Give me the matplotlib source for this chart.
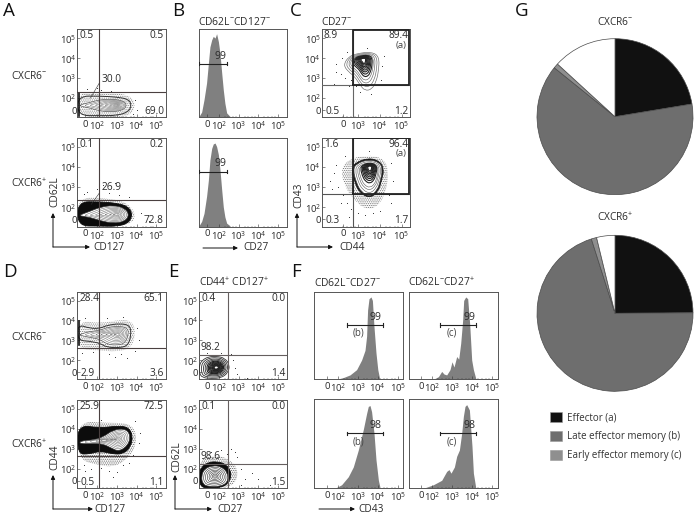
import numpy as np
import matplotlib
matplotlib.use('Agg')
import matplotlib.pyplot as plt
from matplotlib.patches import PathPatch, Patch
from matplotlib.path import Path

plt.rcParams['font.family'] = ['Open Sans', 'DejaVu Sans']
plt.rcParams['mathtext.default'] = 'regular'
plt.rcParams['hatch.linewidth'] = 0.5

W, H = 697, 517
INK = '#2a2a2a'
FRAME = '#555555'
STIPPLE = '.' * 9

# tick labels
FLOW_TICKS = [1.39, 2, 3, 4, 5]
FLOW_LABELS = ['0', '10$^{2}$', '10$^{3}$', '10$^{4}$', '10$^{5}$']
YTICKS = [1.4, 2, 3, 4, 5]
C_TICKS = [2.31, 3, 4, 5]
C_LABELS = ['0', '10$^{3}$', '10$^{4}$', '10$^{5}$']
F_TICKS = [1.45, 2, 3, 4, 5]

# histograms: x in decades, y as fraction of the axes
B1_X = [0.985, 1.12, 1.24, 1.37, 1.46, 1.54, 1.63, 1.71, 1.80, 1.88, 1.97, 2.05, 2.14, 2.22, 2.30, 2.39, 2.56]
B1_Y = [.01, .06, .20, .39, .61, .80, .88, .92, .90, .95, .86, .73, .50, .31, .16, .05, .01]
B2_Y = [.01, .06, .15, .34, .52, .75, .88, .93, .94, .90, .81, .64, .41, .22, .11, .04, .01]
F1_X = [1.94, 2.28, 2.61, 2.94, 3.19, 3.36, 3.44, 3.49, 3.56, 3.66, 3.73, 3.81, 3.91, 4.0, 4.08, 4.19]
F1_Y = [0, .02, .05, .11, .22, .33, .49, .79, .92, .94, .90, .60, .30, .11, .02, 0]
F2_X = [2.06, 2.31, 2.475, 2.59, 2.725, 2.89, 2.99, 3.09, 3.225, 3.325, 3.425, 3.525, 3.575, 3.675, 3.775, 3.875, 3.975, 4.06, 4.19]
F2_Y = [0, .03, .09, .06, .05, .11, .20, .14, .26, .23, .41, .68, .90, .94, .92, .63, .22, .11, 0]
F3_X = [1.86, 2.19, 2.525, 2.775, 3.025, 3.275, 3.44, 3.525, 3.61, 3.69, 3.81, 3.91, 4.03, 4.11]
F3_Y = [0, .04, .13, .24, .43, .66, .84, .92, .93, .86, .62, .32, .09, .01]
F4_X = [1.56, 2.06, 2.475, 2.725, 2.84, 2.94, 3.11, 3.225, 3.36, 3.475, 3.56, 3.64, 3.725, 3.86, 3.99, 4.06, 4.175]
F4_Y = [0, .04, .09, .19, .21, .17, .24, .36, .43, .62, .81, .92, .94, .88, .47, .17, .01]

# pies
PIE_NAMES = ['Effector (a)', 'Late effector memory (b)', 'Early effector memory (c)']
PIE_NEG = [22.4, 63.4, 1.0, 13.2]
PIE_POS = [24.9, 70.2, 1.1, 3.8]
PIE_COLORS = ['#111111', '#6e6e6e', '#8f8f8f', '#ffffff']

# contour outlines (x, y in decades)
A1_HALO = [(1.0, 2.32), (2.2, 2.3), (3.0, 2.25), (3.7, 2.1), (3.95, 1.65), (3.7, 1.15), (3.0, 1.02), (1.0, 1.02)]
A1_OUT = [(1.0, 2.1), (2.14, 2.1), (2.98, 2.05), (3.57, 1.95), (3.75, 1.65), (3.57, 1.3), (2.98, 1.12), (2.14, 1.12), (1.0, 1.12)]
A1_IN = [(1.12, 1.66), (1.63, 1.78), (2.14, 1.92), (2.81, 1.95), (3.35, 1.85), (3.49, 1.65), (3.35, 1.42), (2.81, 1.3), (2.14, 1.35), (1.63, 1.5), (1.12, 1.6)]
A2_HALO = [(1.0, 2.5), (2.5, 2.45), (3.5, 2.25), (4.0, 1.62), (3.6, 1.05), (1.0, 1.02)]
A2_OUT = [(1.0, 2.27), (2.14, 2.27), (2.98, 2.2), (3.57, 2.04), (3.79, 1.62), (3.57, 1.2), (2.98, 1.05), (2.14, 1.07), (1.0, 1.07)]
A2_IN = [(1.12, 1.62), (1.63, 1.8), (2.14, 2.0), (2.81, 2.1), (3.4, 1.95), (3.62, 1.62), (3.4, 1.3), (2.81, 1.2), (2.14, 1.335), (1.63, 1.5), (1.12, 1.57)]
C1_OUT = [(2.33, 3.65), (2.56, 4.07), (2.94, 4.235), (3.63, 4.32), (3.98, 4.07), (3.94, 3.32), (3.83, 2.82), (3.63, 2.435), (3.32, 2.37), (3.09, 2.65), (2.86, 3.07), (2.56, 3.32)]
C2_HALO = [(2.2, 3.9), (2.6, 4.4), (3.5, 4.6), (4.2, 4.4), (4.4, 3.8), (4.3, 2.8), (3.9, 2.0), (3.3, 1.9), (2.8, 2.4), (2.4, 3.0)]
C2_OUT = [(2.71, 3.87), (2.86, 4.2), (3.475, 4.45), (4.01, 4.285), (4.195, 3.87), (4.09, 3.37), (3.935, 2.785), (3.55, 2.45), (3.09, 2.7), (2.86, 3.2)]
C2_IN = [(2.77, 3.86), (2.93, 4.17), (3.49, 4.37), (4.0, 4.22), (4.13, 3.86), (4.02, 3.3), (3.89, 2.85), (3.55, 2.52), (3.16, 2.74), (2.93, 3.19)]
D1_HALO = [(1.0, 4.0), (2.2, 3.85), (3.2, 4.05), (3.8, 3.95), (3.95, 3.3), (3.7, 2.6), (3.0, 2.42), (2.0, 2.5), (1.0, 2.55)]
D1_OUT = [(1.0, 3.8), (1.63, 3.6), (2.14, 3.6), (2.47, 3.75), (3.15, 3.85), (3.66, 3.75), (3.72, 3.3), (3.57, 2.75), (3.15, 2.62), (2.47, 2.65), (2.14, 2.85), (1.63, 2.95), (1.0, 3.0)]
D1_IN = [(1.12, 3.3), (1.63, 3.45), (2.14, 3.5), (2.5, 3.65), (3.15, 3.72), (3.55, 3.6), (3.58, 3.3), (3.4, 2.85), (3.0, 2.75), (2.5, 2.8), (2.14, 3.05), (1.63, 3.15), (1.12, 3.25)]
D2_HALO = [(1.0, 4.4), (2.5, 4.3), (3.6, 4.3), (4.0, 3.8), (3.9, 3.0), (3.4, 2.4), (2.8, 2.1), (2.0, 2.2), (1.0, 2.5)]
D2_OUT = [(1.0, 4.2), (2.14, 4.05), (3.0, 4.15), (3.55, 4.1), (3.8, 3.7), (3.7, 3.1), (3.3, 2.75), (2.8, 2.75), (2.14, 2.9), (1.6, 2.75), (1.0, 2.75)]
D2_IN = [(1.12, 3.4), (1.8, 3.45), (2.3, 3.6), (2.8, 3.95), (3.4, 4.02), (3.68, 3.72), (3.58, 3.2), (3.1, 2.87), (2.7, 3.05), (2.3, 3.25), (1.8, 3.28), (1.12, 3.25)]
E1_OUT = [(1.0, 1.75), (1.15, 2.0), (1.46, 2.17), (1.88, 2.2), (2.3, 2.1), (2.55, 1.75), (2.45, 1.35), (2.1, 1.1), (1.6, 1.07), (1.15, 1.12), (1.0, 1.35)]
E2_HALO = [(1.0, 2.55), (1.9, 2.7), (2.6, 2.45), (3.0, 1.9), (2.8, 1.2), (2.0, 1.02), (1.0, 1.02)]
E2_OUT = [(1.0, 1.7), (1.1, 2.1), (1.46, 2.33), (1.88, 2.37), (2.35, 2.25), (2.65, 1.8), (2.5, 1.3), (2.1, 1.07), (1.5, 1.05), (1.05, 1.1)]
E2_IN = [(1.1, 1.65), (1.27, 2.02), (1.68, 2.17), (2.1, 2.13), (2.45, 1.82), (2.45, 1.33), (2.05, 1.12), (1.47, 1.12), (1.17, 1.24)]

# stray events
A1_DOTS = [(2.2, 2.4), (2.7, 2.35), (3.3, 2.3), (3.9, 1.9), (4.0, 1.4), (1.5, 2.45), (2.0, 2.5), (3.8, 1.2)]
A2_DOTS = [(1.5, 2.75), (2.0, 2.9), (2.3, 3.1), (2.6, 2.7), (3.1, 2.6), (2.9, 3.2), (3.6, 2.5), (1.3, 2.65), (4.2, 1.7), (4.6, 1.3)]
C1_DOTS = [(2.0, 3.7), (2.2, 3.2), (2.25, 4.0), (2.5, 4.3), (2.4, 3.0), (2.7, 2.9), (2.9, 2.6), (3.1, 2.3), (3.6, 2.2), (4.1, 3.6), (4.2, 4.1), (3.4, 4.5), (2.0, 3.3), (2.6, 2.6), (4.05, 2.9), (1.9, 2.7)]
C2_DOTS = [(1.9, 3.7), (2.1, 3.0), (2.0, 4.1), (2.3, 2.6), (2.5, 2.2), (2.7, 1.9), (3.0, 1.7), (3.3, 1.6), (3.7, 1.7), (4.0, 1.8), (4.5, 2.2), (4.6, 3.3), (4.5, 4.2), (2.2, 2.2), (1.8, 2.9), (3.5, 4.8), (4.4, 2.6), (2.4, 4.55), (1.7, 3.3), (2.6, 1.5)]
D1_DOTS = [(1.4, 4.1), (2.5, 4.1), (3.3, 4.2), (4.0, 3.6), (4.1, 3.0), (3.9, 2.45), (3.2, 2.3), (2.6, 2.3), (1.8, 2.4), (1.2, 2.35), (2.9, 2.15), (3.5, 2.1)]
D2_DOTS = [(1.3, 2.2), (1.7, 2.0), (2.2, 2.05), (2.6, 1.9), (3.0, 1.85), (3.3, 2.2), (3.6, 2.3), (4.1, 3.3), (4.15, 3.8), (3.9, 4.4), (2.2, 4.45), (1.4, 1.9), (2.8, 1.6), (3.8, 2.7)]
E1_DOTS = [(2.7, 2.0), (2.8, 1.6), (2.6, 2.3), (2.1, 2.35), (1.4, 2.35), (2.9, 1.3), (3.4, 1.1)]
E2_DOTS = [(2.4, 2.75), (2.6, 3.0), (2.9, 2.6), (1.6, 2.85), (3.1, 2.0), (3.3, 1.5), (3.7, 1.8), (4.0, 1.5), (3.1, 1.2), (2.8, 2.85), (4.6, 1.2), (2.1, 2.95)]

RING_SCALES = [.86, .72, .58, .45, .32, .2, .1]
OUTER_SCALES = [1, .88, .76, .66]
CORE_SCALES = [.56, .48, .41, .35, .29, .24, .19, .14]
QUAD_SIZE = 7.3


def px_axes(fig, left, top, right, bottom):
    return fig.add_axes([left / W, 1 - bottom / H, (right - left) / W, (bottom - top) / H])


def smooth(pts):
    # closed outline, the listed points act as curve controls
    p = np.array(pts, dtype=float)
    m = (p + np.roll(p, -1, axis=0)) / 2
    verts, codes = [m[-1]], [Path.MOVETO]
    for i in range(len(p)):
        verts += [p[i], m[i]]
        codes += [Path.CURVE3, Path.CURVE3]
    return Path(verts, codes)


def blob(ax, pts, face='none', edge='#333333', lw=0.5, hatch=None, z=2):
    ax.add_patch(PathPatch(smooth(pts), facecolor=face, edgecolor=edge, lw=lw, hatch=hatch, zorder=z))


def rings(ax, pts, center, scales, color='#555555', lw=0.4, z=4):
    p = np.array(pts, dtype=float)
    c = np.array(center)
    for s in scales:
        blob(ax, c + (p - c) * s, edge=color, lw=lw, z=z)


def frame(ax, xticks=None, xlabels=None, yticks=None):
    for s in ax.spines.values():
        s.set_color(FRAME)
        s.set_linewidth(0.7)
    ax.tick_params(length=2, width=0.4, direction='in', labelsize=6.8, pad=1.8,
                   color='#333333', labelcolor=INK)
    ax.set_xticks(xticks if xticks else [])
    if xticks:
        ax.set_xticklabels(xlabels)
        ax.set_xticks([d + np.log10(k) for d in (2, 3, 4) for k in (2, 3, 5, 7)], minor=True)
        ax.tick_params(axis='x', which='minor', length=1, width=0.3, direction='in', color='#333333')
    ax.set_yticks(yticks if yticks else [])
    if yticks:
        ax.set_yticklabels(FLOW_LABELS)
        ax.set_yticks([d + np.log10(k) for d in (2, 3, 4) for k in (2, 3, 5, 7)], minor=True)
        ax.tick_params(axis='y', which='minor', length=1, width=0.3, direction='in', color='#333333')
        ax.tick_params(axis='y', which='major', pad=0.4)


def flow_axes(fig, box, xlim=(0.985, 5.47), xticks=FLOW_TICKS, xlabels=FLOW_LABELS):
    ax = px_axes(fig, *box)
    ax.set_xlim(*xlim)
    ax.set_ylim(1.035, 5.45)
    frame(ax, xticks, xlabels, YTICKS)
    return ax


def gates(ax, gx, gy, color='#4a4040', lw=0.8):
    ax.axvline(gx, color=color, lw=lw, zorder=6)
    ax.axhline(gy, color=color, lw=lw, zorder=6)


def note(ax, x, y, s, size=QUAD_SIZE, ha='center', color=INK):
    ax.text(x, y, s, transform=ax.transAxes, ha=ha, va='center', fontsize=size, color=color, zorder=8)


def quad(ax, tl, tr, bl, br):
    note(ax, 0.025, 0.925, tl, ha='left')
    note(ax, 0.98, 0.925, tr, ha='right')
    note(ax, 0.04, 0.07, bl, ha='left')
    note(ax, 0.98, 0.07, br, ha='right')


def dots(ax, pts):
    p = np.array(pts)
    ax.scatter(p[:, 0], p[:, 1], s=0.5, color='#333333', linewidths=0, zorder=3)


def hist(ax, xs, ys, lim=(0.985, 5.47), ticks=FLOW_TICKS):
    ax.fill_between(xs, ys, 0, color='#808080', lw=0)
    ax.set_xlim(*lim)
    ax.set_ylim(0, 1)
    frame(ax, ticks, FLOW_LABELS)


def marker(ax, x0, x1, y, label, lx, sub=None, sx=None):
    ax.plot([x0, x1], [y, y], color='#222222', lw=0.8, zorder=6)
    for x in (x0, x1):
        ax.plot([x, x], [y - 0.02, y + 0.02], color='#222222', lw=0.8, zorder=6)
    ax.text(lx, y + 0.085, label, ha='center', va='center', fontsize=7.6, color=INK, zorder=7)
    if sub:
        ax.text(sx, y - 0.095, sub, ha='center', va='center', fontsize=7, color='#444444', zorder=7)


fig = plt.figure(figsize=(W / 100, H / 100), dpi=100)

# A
ax = flow_axes(fig, (77.3, 29.3, 165.7, 117.3))
blob(ax, A1_HALO, edge='#777777', lw=0, hatch=STIPPLE)
blob(ax, A1_OUT, edge='#333333', lw=0.7)
blob(ax, A1_IN, face='white', edge='#555555', lw=0.5, z=3)
rings(ax, A1_IN, (3.0, 1.65), RING_SCALES, color='#777777')
ax.plot([1.06, 1.06], [1.1, 2.25], color='#111111', lw=1.2, zorder=3)
dots(ax, A1_DOTS)
gates(ax, 2.1, 2.32)
quad(ax, '0.5', '0.5', '', '69.0')
note(ax, 0.39, 0.43, '30.0')
ax.plot([2.1, 1.65], [2.75, 2.0], color='#333333', lw=0.4, zorder=7)

ax = flow_axes(fig, (77.3, 137.7, 165.7, 226.7))
blob(ax, A2_HALO, edge='#666666', lw=0, hatch=STIPPLE)
blob(ax, A2_OUT, face='#0c0c0c', edge='#0c0c0c', lw=0.6)
blob(ax, A2_IN, face='white', edge='#333333', lw=0.5, z=3)
rings(ax, A2_IN, (3.0, 1.65), RING_SCALES, color='#777777')
dots(ax, A2_DOTS)
gates(ax, 2.1, 2.355)
quad(ax, '0.1', '0.2', '', '72.8')
note(ax, 0.39, 0.44, '26.9')
ax.plot([2.1, 1.7], [2.7, 2.15], color='#333333', lw=0.4, zorder=7)

# B
ax = px_axes(fig, 199, 29.3, 287.3, 117.3)
hist(ax, B1_X, B1_Y)
marker(ax, 0.99, 2.39, 0.61, '99', 2.1)
ax = px_axes(fig, 199, 137.7, 287.3, 226.7)
hist(ax, B1_X, B2_Y)
marker(ax, 0.99, 2.39, 0.62, '99', 2.1)

# C
C_XLIM = (1.335, 5.385)
ax = flow_axes(fig, (321.7, 29.3, 410, 117.3), C_XLIM, C_TICKS, C_LABELS)
rings(ax, C1_OUT, (3.2, 3.9), OUTER_SCALES, color='#666666', lw=0.45)
rings(ax, C1_OUT, (3.25, 3.95), CORE_SCALES, color='#222222', lw=0.8)
dots(ax, C1_DOTS)
gates(ax, 2.78, 2.64, color='#666666')
ax.plot([2.78, 5.36, 5.36, 2.78, 2.78], [2.64, 2.64, 5.42, 5.42, 2.64], color='#222222', lw=1.3, zorder=7)
quad(ax, '8.9', '89.4', '0.5', '1.2')
note(ax, 0.96, 0.82, '(a)', size=6.8, ha='right', color='#444444')

ax = flow_axes(fig, (321.7, 137.7, 410, 226.7), C_XLIM, C_TICKS, C_LABELS)
blob(ax, C2_HALO, edge='#666666', lw=0, hatch=STIPPLE)
blob(ax, C2_OUT, face='#1a1a1a', edge='#111111', lw=0.5)
blob(ax, C2_IN, face='white', edge='#444444', lw=0.5, z=3)
rings(ax, C2_IN, (3.55, 3.8), OUTER_SCALES[1:], color='#555555')
rings(ax, C2_IN, (3.55, 4.0), CORE_SCALES, color='#222222', lw=0.8)
dots(ax, C2_DOTS)
gates(ax, 2.78, 2.67, color='#555555')
ax.plot([2.78, 5.36, 5.36, 2.78, 2.78], [2.67, 2.67, 5.42, 5.42, 2.67], color='#222222', lw=1.3, zorder=7)
quad(ax, '1.6', '96.4', '0.3', '1.7')
note(ax, 0.96, 0.82, '(a)', size=6.8, ha='right', color='#444444')

# D
ax = flow_axes(fig, (77.3, 291.7, 165.7, 379.3))
blob(ax, D1_HALO, edge='#777777', lw=0, hatch=STIPPLE)
blob(ax, D1_OUT, edge='#333333', lw=0.7)
blob(ax, D1_IN, face='white', edge='#555555', lw=0.5, z=3)
rings(ax, D1_IN, (3.05, 3.3), RING_SCALES, color='#777777')
ax.plot([1.06, 1.06], [2.75, 3.95], color='#111111', lw=1.2, zorder=3)
dots(ax, D1_DOTS)
gates(ax, 2.1, 2.635)
quad(ax, '28.4', '65.1', '2.9', '3.6')

ax = flow_axes(fig, (77.3, 400, 165.7, 488.3))
blob(ax, D2_HALO, edge='#555555', lw=0, hatch=STIPPLE)
blob(ax, D2_OUT, face='#0c0c0c', edge='#0c0c0c', lw=0.6)
blob(ax, D2_IN, face='white', edge='#333333', lw=0.5, z=3)
rings(ax, D2_IN, (3.05, 3.5), RING_SCALES, color='#777777')
dots(ax, D2_DOTS)
gates(ax, 2.1, 2.65)
quad(ax, '25.9', '72.5', '0.5', '1.1')

# E
ax = flow_axes(fig, (199, 291.7, 287.3, 379.3))
rings(ax, E1_OUT, (1.88, 1.63), OUTER_SCALES, color='#333333', lw=0.6)
rings(ax, E1_OUT, (1.88, 1.63), CORE_SCALES, color='#222222', lw=0.8)
dots(ax, E1_DOTS)
gates(ax, 2.44, 2.235, color='#665f5f')
quad(ax, '0.4', '0.0', '', '1.4')
note(ax, 0.13, 0.36, '98.2')

ax = flow_axes(fig, (199, 400, 287.3, 488.3))
blob(ax, E2_HALO, edge='#555555', lw=0, hatch=STIPPLE)
blob(ax, E2_OUT, face='#0c0c0c', edge='#0c0c0c', lw=0.6)
blob(ax, E2_IN, face='white', edge='#333333', lw=0.5, z=3)
rings(ax, E2_IN, (1.8, 1.65), RING_SCALES, color='#333333')
dots(ax, E2_DOTS)
gates(ax, 2.44, 2.265, color='#665f5f')
quad(ax, '0.1', '0.0', '', '1.5')
note(ax, 0.13, 0.356, '98.6')

# F
F_LIM = (0.825, 5.275)
ax = px_axes(fig, 314.3, 291.7, 403.3, 379.3)
hist(ax, F1_X, F1_Y, F_LIM, F_TICKS)
marker(ax, 2.44, 4.25, 0.62, '99', 3.9, '(b)', 3.05)
ax = px_axes(fig, 408.7, 291.7, 497.7, 379.3)
hist(ax, F2_X, F2_Y, F_LIM, F_TICKS)
marker(ax, 2.39, 4.2, 0.62, '99', 3.85, '(c)', 3.0)
ax = px_axes(fig, 314.3, 399.3, 403.3, 488.3)
hist(ax, F3_X, F3_Y, F_LIM, F_TICKS)
marker(ax, 2.44, 4.25, 0.618, '98', 3.9, '(b)', 3.05)
ax = px_axes(fig, 408.7, 399.3, 497.7, 488.3)
hist(ax, F4_X, F4_Y, F_LIM, F_TICKS)
marker(ax, 2.39, 4.2, 0.618, '98', 3.85, '(c)', 3.0)

# G
for cy, vals in ((116.7, PIE_NEG), (313.3, PIE_POS)):
    r = 78 * 1.02
    ax = px_axes(fig, 615 - r, cy - r, 615 + r, cy + r)
    ax.pie(vals, colors=PIE_COLORS, startangle=90, counterclock=False,
           wedgeprops=dict(edgecolor='#4a4a4a', linewidth=0.5))
    ax.set_xlim(-1.02, 1.02)
    ax.set_ylim(-1.02, 1.02)

fig.legend([Patch(facecolor=c, edgecolor='#999999', linewidth=0.4) for c in PIE_COLORS[:3]], PIE_NAMES,
           loc='upper left', bbox_to_anchor=(547 / W, 1 - 409 / H), frameon=False, fontsize=7,
           handlelength=1.25, handleheight=1.15, labelspacing=0.82, handletextpad=0.55,
           borderpad=0.3, borderaxespad=0, labelcolor='#333333')

# overlay for letters, row names and arrows
ov = fig.add_axes([0, 0, 1, 1], zorder=20)
ov.set_xlim(0, W)
ov.set_ylim(H, 0)
ov.axis('off')

for s, x, y in [('A', 3, 11), ('B', 172, 11), ('C', 290, 11), ('D', 3, 272),
                ('E', 168, 272), ('F', 291, 272), ('G', 515, 11)]:
    ov.text(x, y, s, fontsize=13.5, color='#111111', va='center', ha='left')

for s, x, y in [('CXCR6$^{-}$', 11, 76), ('CXCR6$^{+}$', 11, 184), ('CXCR6$^{-}$', 11, 337), ('CXCR6$^{+}$', 11, 445)]:
    ov.text(x, y, s, fontsize=7.3, color=INK, va='center', ha='left')

for s, x, y in [('CD62L$^{-}$CD127$^{-}$', 198, 22), ('CD27$^{-}$', 321, 22), ('CD44$^{+}$ CD127$^{+}$', 199, 283),
                ('CD62L$^{-}$CD27$^{-}$', 314, 283), ('CD62L$^{-}$CD27$^{+}$', 408, 283)]:
    ov.text(x, y, s, fontsize=7.4, color=INK, va='center', ha='left')
for s, y in [('CXCR6$^{-}$', 22), ('CXCR6$^{+}$', 218)]:
    ov.text(615, y, s, fontsize=7.3, color=INK, va='center', ha='center')


def arrow(x0, y0, x1, y1):
    ov.annotate('', xy=(x1, y1), xytext=(x0, y0),
                arrowprops=dict(arrowstyle='-|>', lw=0.7, color='#111111', mutation_scale=6,
                                shrinkA=0, shrinkB=0))


for x, y, top, right in [(53, 247, 213, 90), (297, 247, 213, 333), (53, 509, 475, 93), (175, 509, 475, 212)]:
    arrow(x, y, x, top)
    arrow(x, y, right, y)
arrow(203, 248, 238, 248)
arrow(319, 509, 355, 509)

for s, x, y in [('CD127', 93, 247), ('CD27', 243, 248), ('CD44', 339, 248), ('CD127', 94, 509),
                ('CD27', 217, 510), ('CD43', 358, 509)]:
    ov.text(x, y, s, fontsize=7.3, color=INK, va='center', ha='left')
for s, x, y in [('CD62L', 55, 192), ('CD43', 299, 195), ('CD44', 55, 457), ('CD62L', 177, 457)]:
    ov.text(x, y, s, fontsize=7.3, color=INK, va='center', ha='center', rotation=90)

fig.savefig('out.png', dpi=100)
